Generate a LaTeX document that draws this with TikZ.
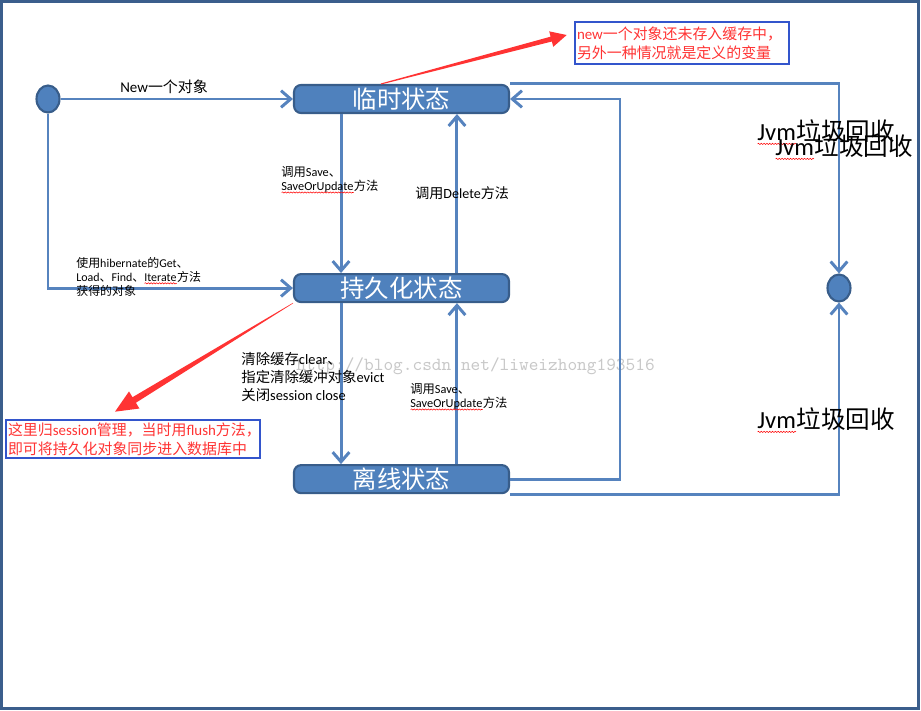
\documentclass[tikz,border=0pt]{standalone}
\usepackage{fontspec}
\setmainfont{Carlito}
\newfontfamily\latinfont{Carlito}
\newfontfamily\zhfont{Noto Sans CJK SC}
\usetikzlibrary{arrows.meta, shapes.geometric, calc, positioning, decorations.pathmorphing}

\XeTeXinterchartokenstate=1
\newXeTeXintercharclass\zhclass
\makeatletter
\count@="4E00
\loop\ifnum\count@<"A000
  \XeTeXcharclass\count@=\zhclass
  \advance\count@ by 1
\repeat
\makeatother
\XeTeXcharclass"3001=\zhclass
\XeTeXcharclass"3002=\zhclass
\XeTeXcharclass"FF0C=\zhclass
\XeTeXinterchartoks 0 \zhclass = {\zhfont}
\XeTeXinterchartoks 4095 \zhclass = {\zhfont}
\XeTeXinterchartoks \zhclass 0 = {\latinfont}

\definecolor{stateFill}{RGB}{79,129,189}
\definecolor{stateLine}{RGB}{56,93,138}
\definecolor{flowLine}{RGB}{86,131,190}
\definecolor{noteRed}{RGB}{255,51,51}
\definecolor{noteBlue}{RGB}{51,85,204}
\definecolor{frameBlue}{RGB}{59,94,140}
\definecolor{markGray}{RGB}{200,200,200}

\newsavebox\spellbox
\newlength\spelllen
\newcommand{\spell}[2][1pt]{\sbox\spellbox{\latinfont #2}\setlength\spelllen{\wd\spellbox}%
  \rlap{\usebox\spellbox}\tikz[baseline=0pt]{\draw[red, line width=0.3pt, decorate,
    decoration={snake, amplitude=0.35pt, segment length=1.6pt}] (0pt,-#1) -- (\spelllen,-#1);}}

\newcommand{\notearrow}[6]{%
  \coordinate (nb) at ($(#2)!#6!(#1)$);
  \fill[noteRed] ($(#1)!#3!90:(#2)$) -- ($(nb)!#4!90:(#2)$) -- ($(nb)!#5!90:(#2)$) -- (#2)
    -- ($(nb)!#5!-90:(#2)$) -- ($(nb)!#4!-90:(#2)$) -- ($(#1)!#3!-90:(#2)$) -- cycle;}

\begin{document}
\begin{tikzpicture}[x=0.02cm, y=-0.02cm,
    state/.style={draw=stateLine, line width=1.2pt, fill=stateFill, rounded corners=4pt,
      minimum width=4.3cm, minimum height=0.56cm, inner sep=0pt, text=white,
      font=\fontsize{13.9}{16}\selectfont},
    dot/.style={ellipse, draw=stateLine, line width=1.2pt, fill=stateFill,
      minimum width=0.46cm, minimum height=0.54cm, inner sep=0pt},
    flow/.style={draw=flowLine, line width=1.7pt, -{Straight Barb[length=5.5pt, width=9.5pt]}},
    lbl/.style={anchor=west, align=left, inner sep=0pt},
    jvm/.style={anchor=west, inner sep=0pt, font=\fontsize{14}{16}\selectfont},
    note/.style={draw=noteBlue, line width=1.5pt, text=noteRed, align=left,
      inner xsep=0.04cm, inner ysep=0pt, font=\fontsize{8.5}{10.8}\selectfont}]
  \useasboundingbox (0,0) rectangle (921,711);
  \draw[frameBlue, line width=1.7pt] (1.5,1.5) rectangle (918.5,708.5);

  \node[anchor=west, inner sep=0pt, text=markGray, font=\ttfamily\fontsize{10.5}{12}\selectfont]
    (mark) at (296,366) {http://blog.csdn.net/liweizhong193516};

  \node[state] (tmp) at (401.5,99) {临时状态};
  \node[state, below=3.18cm of tmp] (persist) {持久化状态};
  \node[state, below=3.22cm of persist] (detach) {离线状态};
  \node[dot] (start) at (48,99) {};
  \node[dot] (end) at (839,288) {};

  \draw[flow] (start) -- (tmp);
  \draw[flow] (start.south) |- (persist.west);
  \draw[flow] ([xshift=-1.21cm]tmp.south) -- ([xshift=-1.21cm]persist.north);
  \draw[flow] ([xshift=1.11cm]persist.north) -- ([xshift=1.11cm]tmp.south);
  \draw[flow] ([xshift=-1.21cm]persist.south) -- ([xshift=-1.21cm]detach.north);
  \draw[flow] ([xshift=1.11cm]detach.north) -- ([xshift=1.11cm]persist.south);
  \coordinate (loopTop) at (620,99);
  \draw[flow] (detach.east) -| (loopTop) -- (tmp.east);
  \draw[flow] (tmp.north east) -| (end.north);
  \draw[flow] (detach.south east) -| (end.south);

  \node[lbl, font=\fontsize{8.5}{10}\selectfont] (lblNew) at (120,87) {New一个对象};
  \node[lbl, font=\fontsize{7}{8}\selectfont] (lblSave) at (281,180)
    {调用Save、\\\spell{SaveOrUpdate}方法};
  \node[lbl, font=\fontsize{8}{10}\selectfont] (lblDelete) at (415,193) {调用Delete方法};
  \node[lbl, font=\fontsize{6.8}{8.2}\selectfont] (lblGet) at (76,277)
    {使用hibernate的Get、\\Load、Find、\spell{Iterate}方法\\获得的对象};
  \node[lbl, font=\fontsize{8.2}{10.5}\selectfont] (lblEvict) at (241,377)
    {清除缓存clear、\\指定清除缓冲对象evict\\关闭session close};
  \node[lbl, font=\fontsize{7}{8}\selectfont] (lblResave) at (410,397)
    {调用Save、\\\spell{SaveOrUpdate}方法};
  \node[jvm] (jvmA) at (757,132) {\spell[2.2pt]{Jvm}垃圾回收};
  \node[jvm] (jvmB) at (775,147) {\spell[2.2pt]{Jvm}垃圾回收};
  \node[jvm] (jvmC) at (757,420) {\spell[2.2pt]{Jvm}垃圾回收};

  \node[note, text width=4.2cm, minimum height=0.84cm] (noteNew) at (682,43)
    {new一个对象还未存入缓存中，\\另外一种情况就是定义的变量};
  \node[note, text width=5.0cm, minimum height=0.76cm] (noteSession) at (133,439)
    {这里归session管理，当时用flush方法，\\即可将持久化对象同步进入数据库中};

  \coordinate (newFrom) at ([xshift=-0.41cm]tmp.north);
  \coordinate (newTip) at ([shift={(-0.14cm,0.16cm)}]noteNew.west);
  \notearrow{newFrom}{newTip}{0.01cm}{0.05cm}{0.16cm}{0.32cm}
  \coordinate (sessFrom) at (persist.south west);
  \coordinate (sessTip) at ([shift={(-0.36cm,0.14cm)}]noteSession.north);
  \notearrow{sessFrom}{sessTip}{0.005cm}{0.065cm}{0.2cm}{0.45cm}
\end{tikzpicture}
\end{document}
